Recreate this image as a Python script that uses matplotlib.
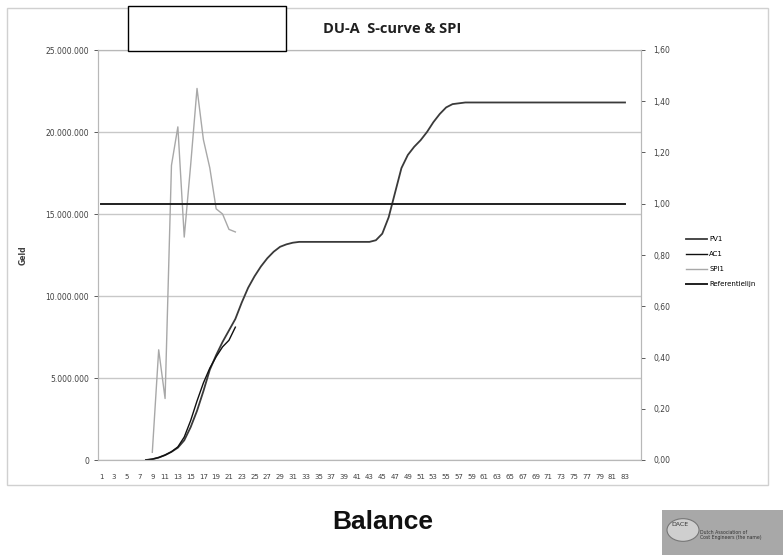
import numpy as np
import matplotlib
matplotlib.use("Agg")
import matplotlib.pyplot as plt
from matplotlib.patches import Rectangle, Circle
from matplotlib.ticker import FuncFormatter

# --- data ---
n_periods = 85
periods = np.arange(1, n_periods + 1)
last_label = 83

pv_start = 8
pv1 = [0.0, 0.05, 0.15, 0.3, 0.5, 0.75, 1.2, 2.0, 3.0, 4.2, 5.5, 6.4, 7.2, 7.9,
       8.6, 9.6, 10.5, 11.2, 11.8, 12.3, 12.7, 13.0, 13.15, 13.25,
       13.3, 13.3, 13.3, 13.3, 13.3, 13.3, 13.3, 13.3, 13.3, 13.3, 13.3, 13.3,
       13.4, 13.8, 14.8, 16.3, 17.8, 18.6, 19.1, 19.5, 20.0, 20.6, 21.1, 21.5,
       21.7, 21.75, 21.8, 21.8, 21.8, 21.8, 21.8, 21.8, 21.8, 21.8, 21.8, 21.8,
       21.8, 21.8, 21.8, 21.8, 21.8, 21.8, 21.8, 21.8, 21.8, 21.8, 21.8, 21.8,
       21.8, 21.8, 21.8, 21.8]  # million, periods 8..83

ac_start = 8
ac1 = [0.0, 0.05, 0.15, 0.3, 0.5, 0.8, 1.4, 2.4, 3.6, 4.7, 5.6, 6.3, 6.9, 7.3, 8.1]  # million, 8..22

spi_start = 9
spi1 = [0.03, 0.43, 0.24, 1.15, 1.30, 0.87, 1.15, 1.45, 1.25, 1.14, 0.98, 0.96, 0.90, 0.89]  # 9..22

ref_start, ref_end = 1, 83
ref_value = 1.0

pv_x = np.arange(pv_start, pv_start + len(pv1))
ac_x = np.arange(ac_start, ac_start + len(ac1))
spi_x = np.arange(spi_start, spi_start + len(spi1))
ref_x = np.arange(ref_start, ref_end + 1)

fig = plt.figure(figsize=(7.83, 5.55), dpi=100)
fig.patch.set_facecolor("white")

# outer chart border
fig.add_artist(Rectangle((7 / 783, 1 - 485 / 555), 761 / 783, 477 / 555,
                         transform=fig.transFigure, fill=False,
                         edgecolor="#d0d0d0", linewidth=1))

ax = fig.add_axes([98 / 783, 95 / 555, 543 / 783, 410 / 555])
ax2 = ax.twinx()

grid_c = "#c8c8c8"
for s in ax.spines.values():
    s.set_color("#b8b8b8")
for s in ax2.spines.values():
    s.set_color("#b8b8b8")

ax.set_xlim(0.5, n_periods + 0.5)
ax.set_ylim(0, 25e6)
ax.set_yticks(np.arange(0, 25e6 + 1, 5e6))
ax.yaxis.grid(True, color=grid_c, linewidth=1)
ax.set_axisbelow(True)
ax.yaxis.set_major_formatter(FuncFormatter(lambda v, p: f"{int(v):,}".replace(",", ".")))
xt = periods[::2]
ax.set_xticks(xt)
ax.set_xticklabels([str(p) if p <= last_label else "" for p in xt])
ax.tick_params(axis="x", length=0, labelsize=5, colors="#404040", pad=10)
ax.tick_params(axis="y", length=3, labelsize=5.5, colors="#404040", width=0.6)
ax.set_ylabel("Geld", fontsize=5.5, fontweight="bold", color="#404040")
ax.yaxis.set_label_coords(-0.13, 0.5)

ax2.set_ylim(0, 1.6)
ax2.set_yticks(np.arange(0, 1.61, 0.2))
ax2.yaxis.set_major_formatter(FuncFormatter(lambda v, p: f"{v:.2f}".replace(".", ",")))
ax2.tick_params(axis="y", length=3, labelsize=5.5, colors="#404040", width=0.6, pad=6)

l1, = ax.plot(pv_x, np.array(pv1) * 1e6, color="#3a3a3a", linewidth=1.3, label="PV1")
l2, = ax.plot(ac_x, np.array(ac1) * 1e6, color="#101010", linewidth=1.0, label="AC1")
l3, = ax2.plot(spi_x, spi1, color="#a8a8a8", linewidth=1.0, label="SPI1")
l4, = ax2.plot(ref_x, np.full(len(ref_x), ref_value), color="#202020", linewidth=1.4,
               label="Referentielijn")

fig.legend(handles=[l1, l2, l3, l4], loc="upper left",
           bbox_to_anchor=(680 / 783, 1 - 230 / 555), frameon=False,
           fontsize=5, handlelength=3, labelspacing=1.3, handletextpad=0.3)

fig.text(392 / 783, 1 - 29 / 555, "DU-A  S-curve & SPI", ha="center", va="center",
         fontsize=10.5, fontweight="bold", color="#202020", family="Open Sans")

# white covering box at the top
fig.add_artist(Rectangle((128 / 783, 1 - 51 / 555), 158 / 783, 45 / 555,
                         transform=fig.transFigure, facecolor="white",
                         edgecolor="black", linewidth=1, zorder=5))

fig.text(383 / 783, 1 - 522 / 555, "Balance", ha="center", va="center",
         fontsize=19, fontweight="bold", family="Liberation Sans", color="#111111")

# logo at bottom right
fig.add_artist(Rectangle((662 / 783, 0), 121 / 783, 45 / 555,
                         transform=fig.transFigure, facecolor="#a8a8a8",
                         edgecolor="none"))
fig.add_artist(Circle((683 / 783, 1 - 530 / 555), 16 / 783, transform=fig.transFigure,
                      facecolor="#cfcfcf", edgecolor="#777777", linewidth=0.8))
fig.text(680 / 783, 1 - 524 / 555, "DACE", fontsize=4.5, ha="center", va="center",
         color="#333333")
fig.text(700 / 783, 1 - 535 / 555, "Dutch Association of\nCost Engineers (the name)",
         fontsize=3.3, ha="left", va="center", color="#333333", linespacing=1.1)

fig.savefig("out.png", dpi=100, facecolor="white")
